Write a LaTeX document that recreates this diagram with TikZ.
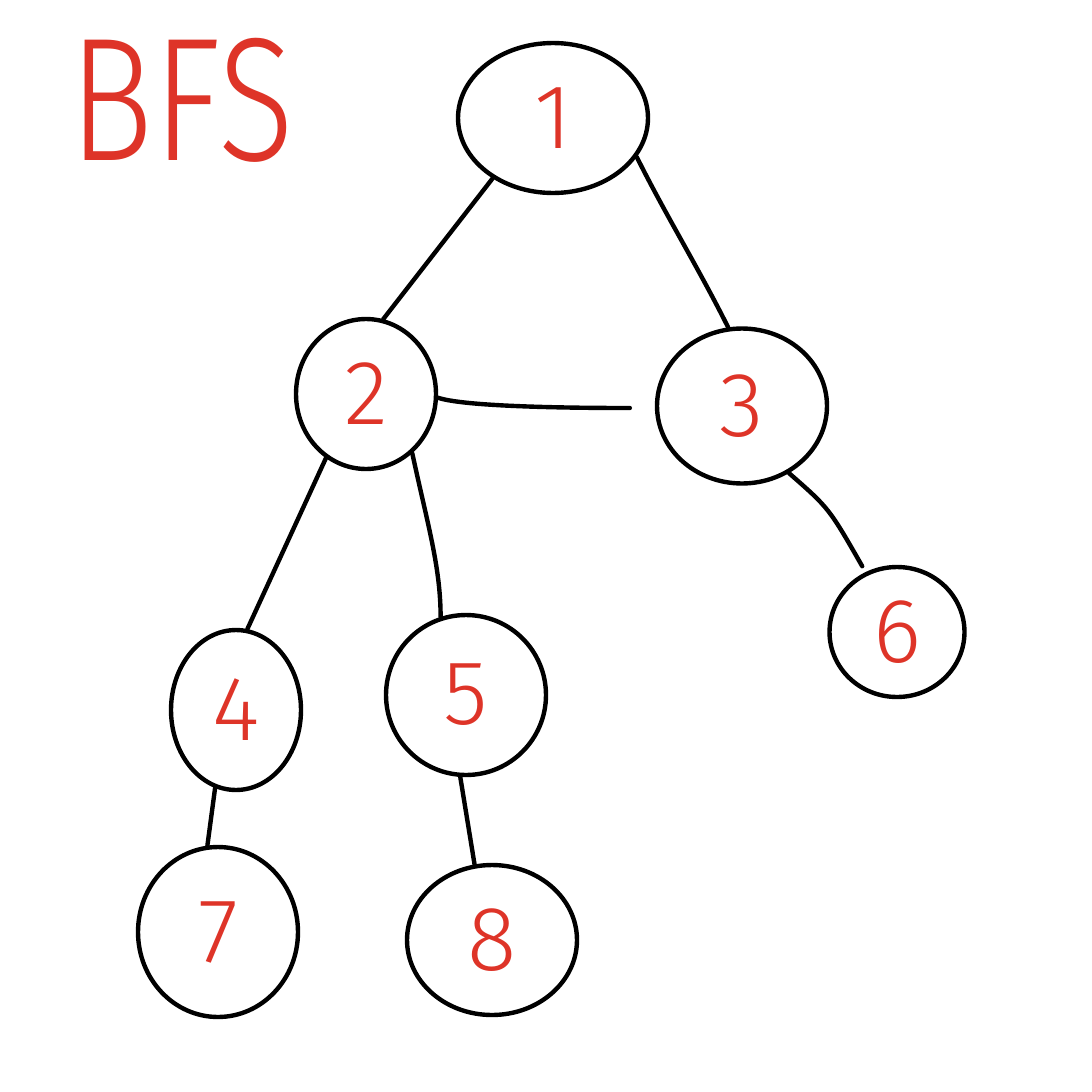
\documentclass[tikz,border=0pt]{standalone}
\usepackage{fontspec}
\newfontfamily\handfont{Fira Sans Light}
\usetikzlibrary{shapes.geometric,calc}
\definecolor{inkred}{RGB}{222,52,40}
\begin{document}
\begin{tikzpicture}[x=0.02cm,y=-0.02cm,
  blob/.style={draw=black, line width=2.5pt, ellipse, inner sep=0pt,
    text=inkred, font=\handfont\fontsize{52}{56}\selectfont},
  link/.style={draw=black, line width=2.5pt, line cap=round}]
\useasboundingbox[fill=white] (0,0) rectangle (1092,1092);
\node[text=inkred, font=\handfont\fontsize{100}{104}\selectfont, xscale=0.8] (title) at (182,100) {BFS};
\node[blob, minimum width=3.8cm, minimum height=3.0cm] (n1) at (553,118) {1};
\node[blob, minimum width=2.8cm, minimum height=3.0cm] (n2) at (366,394) {2};
\node[blob, minimum width=3.4cm, minimum height=3.1cm] (n3) at (742,406) {3};
\node[blob, minimum width=2.6cm, minimum height=3.2cm] (n4) at (236,710) {4};
\node[blob, minimum width=3.2cm, minimum height=3.2cm] (n5) at (466,695) {5};
\node[blob, minimum width=2.7cm, minimum height=2.6cm] (n6) at (897,632) {6};
\node[blob, minimum width=3.2cm, minimum height=3.4cm] (n7) at (218,932) {7};
\node[blob, minimum width=3.4cm, minimum height=3.0cm] (n8) at (492,940) {8};
\draw[link] (n1.225) -- (n2.77);
\draw[link] (n1.335) .. controls ($(n1.335)+(30,60)$) and ($(n3.100)+(-30,-60)$) .. (n3.100);
\draw[link] (n2.-3) .. controls ($(n2.-3)+(30,10)$) and ($(n3.180)+(-60,2)$) .. ($(n3.180)+(-25,2)$);
\draw[link] (n2.238) -- (n4.82);
\draw[link] (n2.308) .. controls ($(n2.308)+(15,70)$) and ($(n5.108)+(0,-50)$) .. (n5.108);
\draw[link] (n3.305) .. controls ($(n3.305)+(40,35)$) .. ($(n6.118)+(-3,-6)$);
\draw[link] (n4.255) -- (n7.97);
\draw[link] (n5.266) -- (n8.103);
\end{tikzpicture}
\end{document}
